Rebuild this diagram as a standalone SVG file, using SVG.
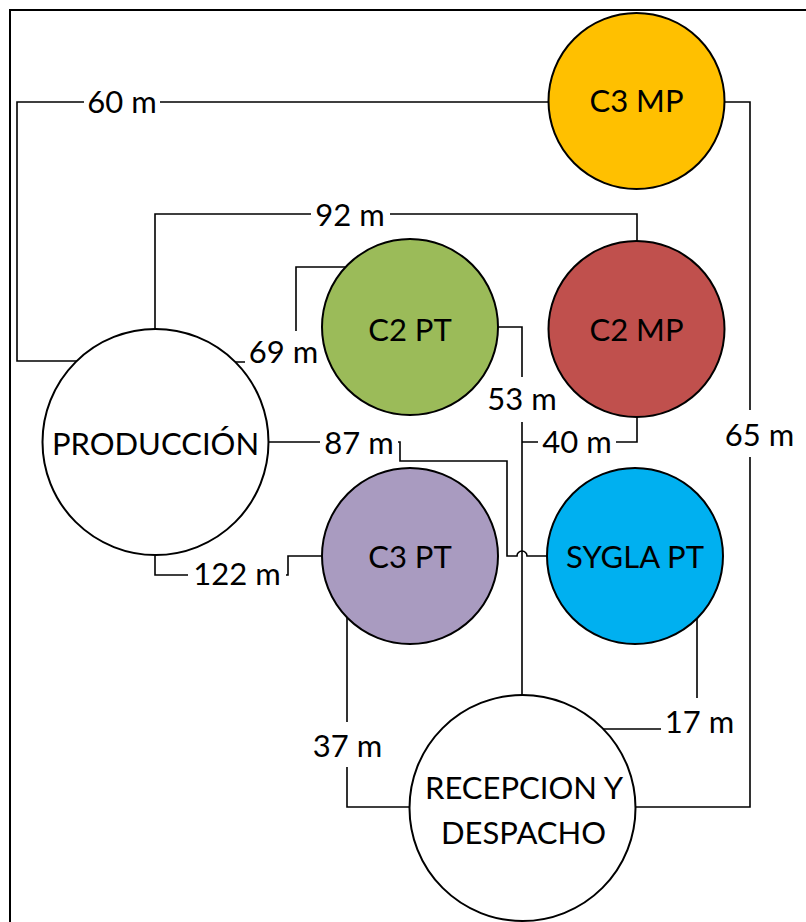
<svg xmlns="http://www.w3.org/2000/svg" width="806" height="922" viewBox="0 0 806 922">
<style>
.frame{fill:none;stroke:#000;stroke-width:2}
.conn path{fill:none;stroke:#000;stroke-width:1.6}
.node circle{stroke:#000;stroke-width:2}
.t{font-family:Lato,"Open Sans",sans-serif;font-size:31px;fill:#000;text-anchor:middle}
.bg{fill:#fff}
</style>
<rect width="806" height="922" fill="#fff"/>
<rect class="frame" x="10" y="10" width="820" height="940"/>
<g id="connectors" class="conn">
<path d="M549,102 H17 V361 H77"/>
<path d="M155,329 V214 H637 V242"/>
<path d="M235,362 H296 V267 H346"/>
<path d="M498,327 H522 V696"/>
<path d="M637,417 V442 H522"/>
<path d="M269,442 H400 V461 H507 V556 H517 A5,5 0 0 1 527,556 H547"/>
<path d="M155,555 V575 H288 V556 H322"/>
<path d="M347,618 V807 H409"/>
<path d="M697,618 V729 H603"/>
<path d="M725,102 H750 V807 H636"/>
</g>
<g id="labels">
<rect class="bg" x="84" y="84" width="76" height="38"/><text class="t" x="122" y="113">60 m</text>
<rect class="bg" x="311" y="198" width="79" height="36"/><text class="t" x="350" y="226">92 m</text>
<rect class="bg" x="245" y="331" width="77" height="42"/><text class="t" x="283.5" y="363">69 m</text>
<rect class="bg" x="484" y="377" width="76" height="45"/><text class="t" x="522" y="410">53 m</text>
<rect class="bg" x="538" y="425" width="78" height="36"/><text class="t" x="577" y="453">40 m</text>
<rect class="bg" x="320" y="422" width="78" height="38"/><text class="t" x="359" y="454">87 m</text>
<rect class="bg" x="722" y="410" width="76" height="47"/><text class="t" x="759.5" y="446">65 m</text>
<rect class="bg" x="188" y="557" width="98" height="34"/><text class="t" x="237" y="585">122 m</text>
<rect class="bg" x="309" y="722" width="77" height="45"/><text class="t" x="347.5" y="757">37 m</text>
<rect class="bg" x="661" y="698" width="77" height="45"/><text class="t" x="699.5" y="733">17 m</text>
</g>
<g id="c3mp" class="node"><circle cx="636.5" cy="101" r="88" fill="#FFC000"/><text class="t" x="636.5" y="112">C3 MP</text></g>
<g id="c2mp" class="node"><circle cx="636.5" cy="329" r="88" fill="#C0504D"/><text class="t" x="636.5" y="341">C2 MP</text></g>
<g id="c2pt" class="node"><circle cx="410" cy="327" r="88" fill="#9BBB59"/><text class="t" x="410" y="341">C2 PT</text></g>
<g id="produccion" class="node"><circle cx="155.5" cy="442" r="113" fill="#fff"/><text class="t" x="155.5" y="455">PRODUCCIÓN</text></g>
<g id="c3pt" class="node"><circle cx="410" cy="556" r="88" fill="#A99BC0"/><text class="t" x="410" y="568">C3 PT</text></g>
<g id="syglapt" class="node"><circle cx="635" cy="556" r="88" fill="#00B0F0"/><text class="t" x="635" y="568">SYGLA PT</text></g>
<g id="recepcion" class="node"><circle cx="522.5" cy="808" r="113" fill="#fff"/><text class="t" x="524" y="799">RECEPCION Y</text><text class="t" x="523.5" y="844">DESPACHO</text></g>
</svg>
